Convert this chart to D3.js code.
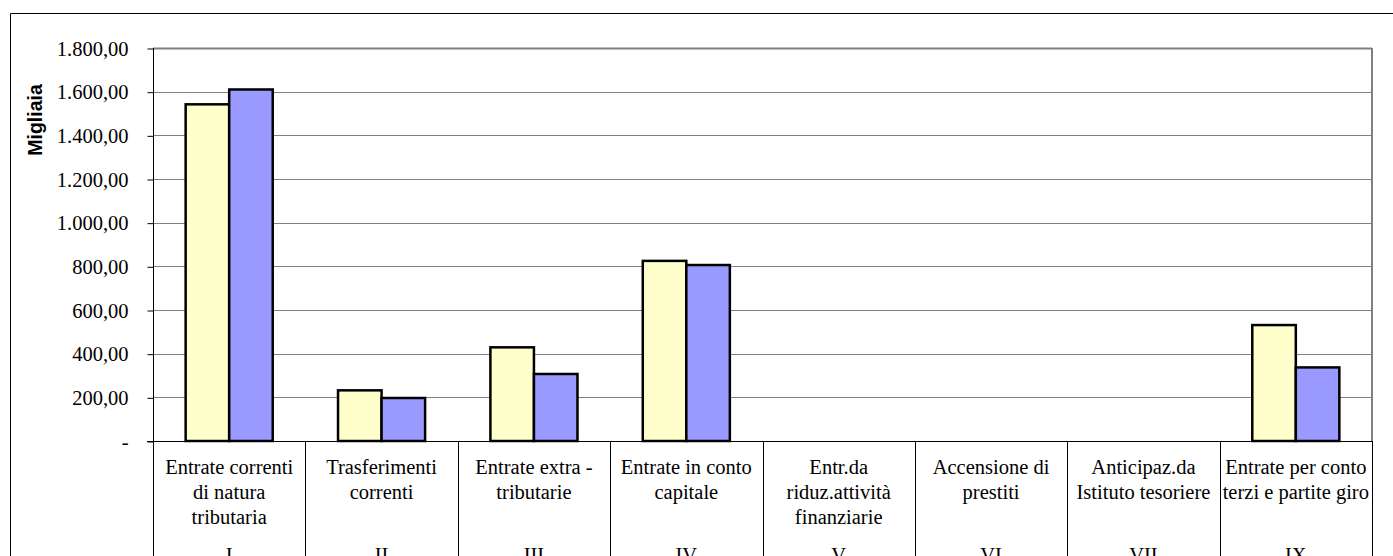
<!DOCTYPE html>
<html>
<head>
<meta charset="utf-8">
<script src="https://cdn.jsdelivr.net/npm/d3@7"></script>
<style>
  html, body { margin: 0; padding: 0; background: #fff; overflow: hidden; }
  svg { display: block; }
</style>
</head>
<body>
<div class="chart"></div>
<script>
// categorie (titolo) con numerazione romana
var categories = [
  ["Entrate correnti", "di natura", "tributaria"],
  ["Trasferimenti", "correnti"],
  ["Entrate extra -", "tributarie"],
  ["Entrate in conto", "capitale"],
  ["Entr.da", "riduz.attività", "finanziarie"],
  ["Accensione di", "prestiti"],
  ["Anticipaz.da", "Istituto tesoriere"],
  ["Entrate per conto", "terzi e partite giro"]
];
var romans = ["I", "II", "III", "IV", "V", "VI", "VII", "IX"];

// valori in migliaia
var serieA = [1542, 232, 429, 825, 0, 0, 0, 531];
var serieB = [1610, 197, 307, 806, 0, 0, 0, 337];

var yTicks = [0, 200, 400, 600, 800, 1000, 1200, 1400, 1600, 1800];

var W = 1393, H = 556;
var plotL = 153, plotR = 1372, plotT = 48, plotB = 441;
var SERIF = "'Liberation Serif'";

var svg = d3.select(".chart").append("svg")
    .attr("width", W)
    .attr("height", H);

// bordo area grafico
svg.append("path")
    .attr("d", "M10.5," + (H + 5) + "V13.5H" + (W + 5))
    .attr("fill", "none")
    .attr("stroke", "#000")
    .attr("stroke-width", 1);

var it = d3.formatLocale({decimal: ",", thousands: ".", grouping: [3], currency: ["€", ""]});
var fmt = function(v) { return v === 0 ? "-" : it.format(",.2f")(v); };

var x = d3.scaleBand()
    .domain(d3.range(categories.length))
    .range([plotL, plotR])
    .padding(0);

var xs = d3.scaleBand()
    .domain([0, 1])
    .range([0, x.bandwidth()])
    .paddingInner(0)
    .paddingOuter(0.75);

var y = d3.scaleLinear()
    .domain([0, 1800])
    .range([plotB, plotT]);

// griglia
svg.append("g").selectAll("line")
    .data(yTicks.filter(function(d) { return d > 0; }))
    .enter().append("line")
    .attr("x1", plotL).attr("x2", plotR)
    .attr("y1", function(d) { return Math.round(y(d)) + 0.5; })
    .attr("y2", function(d) { return Math.round(y(d)) + 0.5; })
    .attr("stroke", "#808080")
    .attr("stroke-width", function(d) { return d === 1800 ? 2 : 1; });

// bordo destro area tracciato
svg.append("line")
    .attr("x1", plotR).attr("x2", plotR)
    .attr("y1", plotT).attr("y2", plotB)
    .attr("stroke", "#808080")
    .attr("stroke-width", 2);

// asse y
var yAxis = d3.axisLeft(y)
    .tickValues(yTicks)
    .tickFormat(fmt)
    .tickSize(6)
    .tickPadding(19);

var gy = svg.append("g")
    .attr("transform", "translate(" + (plotL + 0.5) + ",0.5)")
    .attr("font-family", null)
    .attr("font-size", null)
    .call(yAxis);
gy.select(".domain").remove();
gy.selectAll(".tick line").attr("stroke", "#000");
gy.selectAll(".tick text")
    .style("font-family", SERIF)
    .style("font-size", "20.5px")
    .attr("fill", "#000")
    .attr("dy", "0.33em");

svg.append("line")
    .attr("x1", plotL + 0.5).attr("x2", plotL + 0.5)
    .attr("y1", plotT).attr("y2", H)
    .attr("stroke", "#000");

// barre
var groups = svg.append("g").selectAll("g")
    .data(categories.map(function(c, i) { return [serieA[i], serieB[i]]; }))
    .enter().append("g")
    .attr("transform", function(d, i) { return "translate(" + x(i) + ",0)"; });

groups.selectAll("rect")
    .data(function(d) { return d.filter(function(v) { return v > 0; }).length ? d : []; })
    .enter().append("rect")
    .attr("x", function(d, i) { return xs(i); })
    .attr("y", function(d) { return y(d); })
    .attr("width", xs.bandwidth())
    .attr("height", function(d) { return plotB - y(d); })
    .attr("fill", function(d, i) { return i === 0 ? "#FFFFCC" : "#9999FF"; })
    .attr("stroke", "#000")
    .attr("stroke-width", 2.5);

// asse x
svg.append("line")
    .attr("x1", plotL - 6).attr("x2", plotR)
    .attr("y1", plotB + 0.5).attr("y2", plotB + 0.5)
    .attr("stroke", "#000");

svg.append("g").selectAll("line")
    .data(d3.range(1, categories.length + 1))
    .enter().append("line")
    .attr("x1", function(i) { return Math.round(plotL + i * x.step()) + 0.5; })
    .attr("x2", function(i) { return Math.round(plotL + i * x.step()) + 0.5; })
    .attr("y1", plotB).attr("y2", H)
    .attr("stroke", "#000");

var labels = svg.append("g").selectAll("text")
    .data(categories)
    .enter().append("text")
    .style("font-family", SERIF)
    .style("font-size", "20.5px")
    .attr("fill", "#000")
    .attr("text-anchor", "middle")
    .attr("x", function(d, i) { return x(i) + x.bandwidth() / 2; })
    .attr("y", 474);

labels.selectAll("tspan")
    .data(function(d) { return d; })
    .enter().append("tspan")
    .attr("x", function() { return d3.select(this.parentNode).attr("x"); })
    .attr("dy", function(d, i) { return i === 0 ? 0 : 25; })
    .text(String);

svg.append("g").selectAll("text")
    .data(romans)
    .enter().append("text")
    .style("font-family", SERIF)
    .style("font-size", "20.5px")
    .attr("fill", "#000")
    .attr("text-anchor", "middle")
    .attr("x", function(d, i) { return x(i) + x.bandwidth() / 2; })
    .attr("y", 562)
    .text(String);

// etichetta asse
svg.append("text")
    .attr("transform", "translate(42,120) rotate(-90)")
    .attr("text-anchor", "middle")
    .style("font-family", "'Liberation Sans'")
    .style("font-weight", "bold")
    .style("font-size", "19.5px")
    .text("Migliaia");
</script>
</body>
</html>
